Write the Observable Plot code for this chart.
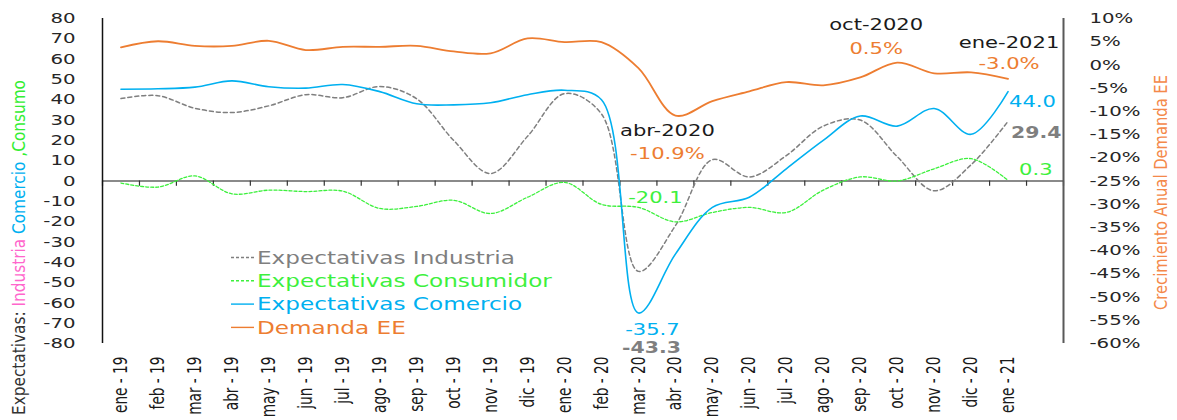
<!DOCTYPE html>
<html><head><meta charset="utf-8">
<script src="https://cdn.jsdelivr.net/npm/d3@7"></script>
<script src="https://cdn.jsdelivr.net/npm/@observablehq/plot@0.6"></script>
<style>body{margin:0;background:#fff} svg{display:block}</style>
</head><body><div id="chart"></div>
<script>
// ---- data ----
const months = ["ene - 19","feb - 19","mar - 19","abr - 19","may - 19","jun - 19","jul - 19","ago - 19","sep - 19","oct - 19","nov - 19","dic - 19","ene - 20","feb - 20","mar - 20","abr - 20","may - 20","jun - 20","jul - 20","ago - 20","sep - 20","oct - 20","nov - 20","dic - 20","ene - 21"];
const industria  = [40.6, 42, 35.8, 33.7, 37, 42.5, 41, 46.5, 40.5, 20, 3.7, 22, 43, 33, -44.5, -22, 10.5, 2, 12.5, 27, 30, 12, -4.8, 8, 29.4];
const consumidor = [-1, -3, 2.5, -6.3, -4.5, -5.2, -5, -13.5, -12.5, -9.5, -16, -8, -0.7, -11.5, -13, -20.1, -15.5, -13, -15.5, -4.5, 2, 0, 6, 11, 0.3];
const comercio   = [45.2, 45.4, 46.2, 49.3, 46.4, 45.7, 47.5, 44, 38, 37.5, 38.5, 42.5, 44.7, 40, -65, -36, -13, -8, 6, 20, 32, 27, 35.7, 23, 44];
const demanda    = [3.8, 5.1, 4.1, 4.1, 5.2, 3.2, 3.9, 3.9, 4.1, 2.9, 2.5, 5.7, 4.9, 4.9, -0.7, -10.9, -7.8, -5.7, -3.7, -4.4, -2.7, 0.5, -1.8, -1.6, -3.0];
const leftTicks  = d3.range(-80, 81, 10);
const rightTicks = d3.range(-60, 11, 5);

// ---- styling ----
const orange = "#ED7D31", blue = "#00B0F0", green = "#3DF03D", gray = "#7F7F7F";
const S = 1.36;   // horizontal stretch of the reference's text
const toLeft = p => (p + 25) * 160 / 70;   // right axis (%) -> left axis units
const series = {industria, consumidor, comercio, demanda: demanda.map(toLeft)};

const annotations = [
  {i:15, s:"demanda",    text:"abr-2020", fill:"#1a1a1a", dx:-8,  dy:15,  anchor:"middle"},
  {i:15, s:"demanda",    text:"-10.9%",   fill:orange,    dx:-8,  dy:38,  anchor:"middle"},
  {i:15, s:"consumidor", text:"-20.1",    fill:green,     dx:-20, dy:-24, anchor:"middle"},
  {i:14, s:"comercio",   text:"-35.7",    fill:blue,      dx:14,  dy:17,  anchor:"middle"},
  {i:14, s:"industria",  text:"-43.3",    fill:gray,      dx:13,  dy:77,  anchor:"middle", bold:true},
  {i:21, s:"demanda",    text:"oct-2020", fill:"#1a1a1a", dx:-21, dy:-38, anchor:"middle"},
  {i:21, s:"demanda",    text:"0.5%",     fill:orange,    dx:-21, dy:-14, anchor:"middle"},
  {i:24, s:"demanda",    text:"ene-2021", fill:"#1a1a1a", dx:1,   dy:-36, anchor:"middle"},
  {i:24, s:"demanda",    text:"-3.0%",    fill:orange,    dx:1,   dy:-15, anchor:"middle"},
  {i:24, s:"comercio",   text:"44.0",     fill:blue,      dx:1,   dy:10,  anchor:"start"},
  {i:24, s:"industria",  text:"29.4",     fill:gray,      dx:3,   dy:12,  anchor:"start", bold:true},
  {i:24, s:"consumidor", text:"0.3",      fill:green,     dx:11,  dy:-10, anchor:"start"}
];

const idx = (d, i) => i;
const boundaries = d3.range(-0.5, months.length + 1, 1);
const curve = "catmull-rom";

const chart = Plot.plot({
  width: 1177, height: 420,
  marginLeft: 102, marginRight: 114, marginTop: 18, marginBottom: 77,
  style: {background: "#fff", fontFamily: "DejaVu Sans", overflow: "visible"},
  x: {type: "linear", domain: [-0.5, 25.5], axis: null},
  y: {domain: [-80, 80], axis: null},
  marks: [
    Plot.axisY(leftTicks, {anchor: "left", tickSize: 0, tickPadding: 27, tickFormat: d => String(d), fontSize: 14.5, fill: "#262626"}),
    Plot.axisY(rightTicks.map(toLeft), {anchor: "right", tickSize: 0, tickPadding: 26, textAnchor: "start",
      tickFormat: v => Math.round(v * 70 / 160 - 25) + "%", fontSize: 14.5, fill: "#262626"}),
    Plot.ruleY([0], {stroke: "#8a8a8a", strokeWidth: 2}),
    Plot.ruleX(boundaries, {x: d => d, y1: 0, y2: -2.6, stroke: "#333", strokeWidth: 1.2}),
    Plot.ruleX([-0.5], {stroke: "#111", strokeWidth: 1.5}),
    Plot.ruleX([25.5], {stroke: "#595959", strokeWidth: 2}),
    Plot.line(series.demanda, {x: idx, y: d => d, stroke: orange, strokeWidth: 1.8, curve}),
    Plot.line(series.industria, {x: idx, y: d => d, stroke: gray, strokeWidth: 1.5, strokeDasharray: "4,3", curve}),
    Plot.line(series.consumidor, {x: idx, y: d => d, stroke: green, strokeWidth: 1.3, strokeDasharray: "3,2", curve}),
    Plot.line(series.comercio, {x: idx, y: d => d, stroke: blue, strokeWidth: 1.6, curve}),
    Plot.text(months, {x: idx, text: d => d, frameAnchor: "bottom", rotate: -90, textAnchor: "end", lineAnchor: "middle",
      dy: 13, fontSize: 19, fontFamily: "DejaVu Sans Condensed", fill: "#1a1a1a"}),
    ...annotations.map(a => Plot.text([a], {
      x: d => d.i, y: d => series[d.s][d.i], text: d => d.text, fill: a.fill,
      dx: a.dx, dy: a.dy, textAnchor: a.anchor, lineAnchor: "middle",
      fontSize: a.bold ? 15 : 15.5, fontWeight: a.bold ? "bold" : "normal"
    }))
  ]
});

document.getElementById("chart").appendChild(chart);
const svg = d3.select(chart);

// legend
const legendItems = [
  {label: "Expectativas Industria",  color: gray,   dash: "3,2"},
  {label: "Expectativas Consumidor", color: green,  dash: "3,2"},
  {label: "Expectativas Comercio",   color: blue,   dash: null},
  {label: "Demanda EE",              color: orange, dash: null}
];
const lg = svg.append("g").attr("class", "legend").attr("text-anchor", "start");
legendItems.forEach((it, k) => {
  const y = 257.5 + k * 23.3;
  lg.append("line").attr("x1", 231).attr("x2", 254).attr("y1", y).attr("y2", y)
    .attr("stroke", it.color).attr("stroke-width", 1.4).attr("stroke-dasharray", it.dash);
  lg.append("text").attr("x", 257).attr("y", y).attr("dy", "0.36em").attr("fill", it.color)
    .attr("text-anchor", "start").attr("font-size", 17).text(it.label);
});

// horizontal stretching of text (before adding rotated titles)
chart.querySelectorAll("text").forEach(t => {
  const L = t.getComputedTextLength();
  if (!L) return;
  const rotated = (t.getAttribute("transform") || "").includes("rotate");
  t.setAttribute("textLength", (L * (rotated ? 0.8 : S)).toFixed(1));
  t.setAttribute("lengthAdjust", "spacingAndGlyphs");
});

// axis titles
const lt = svg.append("text").attr("transform", "translate(25,247.5) rotate(-90)")
  .attr("text-anchor", "middle").attr("font-size", 17).attr("font-family", "DejaVu Sans Condensed")
  .attr("textLength", 335).attr("lengthAdjust", "spacingAndGlyphs");
lt.append("tspan").attr("fill", "#333").text("Expectativas: ");
lt.append("tspan").attr("fill", "#FF66CC").text("Industria");
lt.append("tspan").attr("fill", blue).text(" Comercio");
lt.append("tspan").attr("fill", "#33EE33").text(" ,Consumo");

svg.append("text").attr("transform", "translate(1167,192.5) rotate(-90)")
  .attr("text-anchor", "middle").attr("font-size", 17).attr("font-family", "DejaVu Sans Condensed")
  .attr("fill", "#F4894A").attr("textLength", 235).attr("lengthAdjust", "spacingAndGlyphs")
  .text("Crecimiento Anual Demanda EE");
</script></body></html>
